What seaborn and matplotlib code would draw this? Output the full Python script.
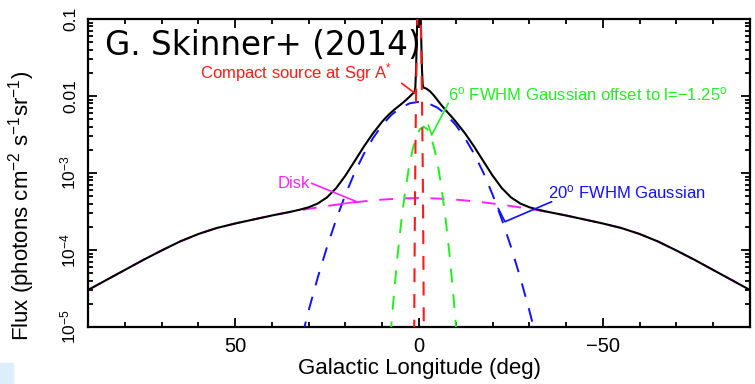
import numpy as np
import pandas as pd
import matplotlib
matplotlib.use("Agg")
import matplotlib.pyplot as plt
import seaborn as sns
from matplotlib.ticker import FixedLocator, FixedFormatter, MultipleLocator, LogLocator, NullFormatter
from matplotlib.patches import Rectangle

# ---------------- data ----------------
disk_l = [90, 85, 80, 75, 70, 65, 60, 55, 50, 45, 40, 35, 30, 25, 20, 15, 10, 5, 0,
          -5, -10, -15, -20, -25, -30, -35, -40, -45, -50, -55, -60, -65, -70, -75, -80, -85, -90]
disk_v = [3.02e-5, 4.08e-5, 5.50e-5, 7.42e-5, 9.85e-5, 1.289e-4, 1.613e-4, 1.930e-4, 2.209e-4,
          2.490e-4, 2.806e-4, 3.114e-4, 3.427e-4, 3.727e-4, 4.017e-4, 4.290e-4, 4.513e-4, 4.664e-4,
          4.734e-4,
          4.664e-4, 4.513e-4, 4.290e-4, 4.017e-4, 3.727e-4, 3.427e-4, 3.114e-4, 2.806e-4, 2.490e-4,
          2.209e-4, 1.930e-4, 1.613e-4, 1.289e-4, 9.85e-5, 7.42e-5, 5.50e-5, 4.08e-5, 3.02e-5]

blue_l = [35, 32.5, 30, 27.5, 25, 22.5, 20, 17.5, 15, 12.5, 10, 7.5, 5, 2.5, 0,
          -2.5, -5, -7.5, -10, -12.5, -15, -17.5, -20, -22.5, -25, -27.5, -30, -32.5, -35]
blue_v = [1.72e-6, 5.55e-6, 1.64e-5, 4.44e-5, 1.10e-4, 2.51e-4, 5.25e-4, 1.01e-3, 1.77e-3,
          2.84e-3, 4.20e-3, 5.69e-3, 7.06e-3, 8.04e-3, 8.40e-3,
          8.04e-3, 7.06e-3, 5.69e-3, 4.20e-3, 2.84e-3, 1.77e-3, 1.01e-3, 5.25e-4, 2.51e-4,
          1.10e-4, 4.44e-5, 1.64e-5, 5.55e-6, 1.72e-6]

green_l = [7.75, 6.75, 5.75, 4.75, 3.75, 2.75, 1.75, 0.75, -0.25, -1.25,
           -2.25, -3.25, -4.25, -5.25, -6.25, -7.25, -8.25, -9.25, -10.25]
green_v = [7.8e-6, 2.89e-5, 9.19e-5, 2.50e-4, 5.83e-4, 1.17e-3, 2.00e-3, 2.94e-3, 3.70e-3, 4.00e-3,
           3.70e-3, 2.94e-3, 2.00e-3, 1.17e-3, 5.83e-4, 2.50e-4, 9.19e-5, 2.89e-5, 7.8e-6]

red_l = [1.4, 1.3, 1.2, 1.1, 1.0, 0.9, 0.8, 0.7, 0.6, 0.5, 0.4, 0.3, 0.2, 0.1, 0.0,
         -0.1, -0.2, -0.3, -0.4, -0.5, -0.6, -0.7, -0.8, -0.9, -1.0, -1.1, -1.2, -1.3, -1.4]
red_v = [1e-6, 1e-5, 8e-5, 4e-4, 1.4e-3, 4e-3, 1e-2, 2.2e-2, 4.5e-2, 8e-2, 0.13, 0.22, 0.35, 0.46, 0.5,
         0.46, 0.35, 0.22, 0.13, 8e-2, 4.5e-2, 2.2e-2, 1e-2, 4e-3, 1.4e-3, 4e-4, 8e-5, 1e-5, 1e-6]

total_l = [90, 85, 80, 75, 70, 65, 60, 55, 50, 45, 40, 35, 32.5, 30, 27.5, 25, 22.5, 20, 17.5, 15,
           12.5, 10, 9, 8, 7, 6, 5, 4, 3, 2, 1.5, 1.2, 1.0, 0.8, 0.6, 0.4, 0.2, 0,
           -0.2, -0.4, -0.6, -0.8, -1.0, -1.2, -1.5, -2, -3, -4, -5, -6, -7, -8, -9, -10,
           -12.5, -15, -17.5, -20, -22.5, -25, -27.5, -30, -32.5, -35, -40, -45, -50, -55,
           -60, -65, -70, -75, -80, -85, -90]
total_v = [3.02e-5, 4.08e-5, 5.50e-5, 7.42e-5, 9.85e-5, 1.289e-4, 1.613e-4, 1.930e-4, 2.209e-4,
           2.490e-4, 2.806e-4, 3.13e-4, 3.33e-4, 3.59e-4, 4.02e-4, 4.83e-4, 6.38e-4, 9.27e-4,
           1.425e-3, 2.20e-3, 3.28e-3, 4.65e-3, 5.25e-3, 5.86e-3, 6.47e-3, 7.08e-3, 7.73e-3,
           8.47e-3, 9.36e-3, 1.041e-2, 1.097e-2, 1.139e-2, 1.292e-2, 2.173e-2, 5.69e-2, 0.142,
           0.362, 0.512,
           0.3625, 0.1426, 5.77e-2, 2.277e-2, 1.419e-2, 1.287e-2, 1.272e-2, 1.247e-2, 1.152e-2,
           1.022e-2, 8.88e-3, 7.71e-3, 6.76e-3, 5.97e-3, 5.29e-3, 4.65e-3,
           3.28e-3, 2.20e-3, 1.425e-3, 9.27e-4, 6.38e-4, 4.83e-4, 4.02e-4, 3.59e-4, 3.33e-4, 3.13e-4,
           2.806e-4, 2.490e-4, 2.209e-4, 1.930e-4, 1.613e-4, 1.289e-4, 9.85e-5, 7.42e-5, 5.50e-5,
           4.08e-5, 3.02e-5]

x_ticks = [50, 0, -50]
x_ticklabels = ["50", "0", "\u221250"]
y_ticks = [1e-5, 1e-4, 1e-3, 1e-2, 1e-1]
y_ticklabels = ["10$^{\u22125}$", "10$^{\u22124}$", "10$^{\u22123}$", "0.01", "0.1"]

# ---------------- style ----------------
sns.set_style("ticks")
plt.rcParams['font.family'] = ['Liberation Sans', 'DejaVu Sans']
plt.rcParams['mathtext.fontset'] = 'custom'
plt.rcParams['mathtext.rm'] = 'Liberation Sans'
plt.rcParams['mathtext.it'] = 'Liberation Sans:italic'
plt.rcParams['mathtext.bf'] = 'Liberation Sans:bold'
plt.rcParams['lines.scale_dashes'] = False
plt.rcParams['text.color'] = 'black'
plt.rcParams['axes.labelcolor'] = 'black'
plt.rcParams['xtick.color'] = 'black'
plt.rcParams['ytick.color'] = 'black'

RED = '#ff1a1a'
GREEN = '#22ee22'
BLUE = '#1010ff'
MAG = '#ff22ff'

fig = plt.figure(figsize=(7.55, 3.84), dpi=100)
fig.patches.append(Rectangle((0, 0), 13 / 755, 21 / 384, transform=fig.transFigure,
                             color='#dbeef9', zorder=0))
ax = fig.add_axes([88 / 755, 57 / 384, 662 / 755, 308 / 384])
ax.set_yscale('log')
ax.set_xlim(90, -90)
ax.set_ylim(1e-5, 0.1)

DASH = (10, 8.5)


def draw(lv, vv, color, lw, dashed, z):
    df = pd.DataFrame({"l": lv, "flux": vv})
    sns.lineplot(data=df, x="l", y="flux", ax=ax, color=color, linewidth=lw,
                 estimator=None, sort=False, zorder=z)
    line = ax.lines[-1]
    if dashed:
        line.set_dashes(DASH)


draw(disk_l, disk_v, MAG, 1.4, True, 2)
draw(blue_l, blue_v, BLUE, 1.4, True, 3)
draw(green_l, green_v, GREEN, 1.4, True, 3)
draw(total_l, total_v, 'black', 1.5, False, 4)
draw(red_l, red_v, RED, 1.5, True, 5)

# ---------------- axes ----------------
ax.xaxis.set_major_locator(FixedLocator(x_ticks))
ax.xaxis.set_major_formatter(FixedFormatter(x_ticklabels))
ax.xaxis.set_minor_locator(MultipleLocator(10))
ax.yaxis.set_major_locator(FixedLocator(y_ticks))
ax.yaxis.set_major_formatter(FixedFormatter(y_ticklabels))
ax.yaxis.set_minor_locator(LogLocator(base=10, subs=np.arange(2, 10)))
ax.yaxis.set_minor_formatter(NullFormatter())

ax.tick_params(which='both', direction='in', top=True, right=True, width=1.3, color='black')
ax.tick_params(which='major', length=6.5)
ax.tick_params(which='minor', length=3.5)
ax.tick_params(axis='x', labelsize=14.5, pad=7)
ax.tick_params(axis='y', labelsize=12.5, pad=7, labelrotation=90)
for t in ax.get_yticklabels():
    t.set_va('center')
for s in ax.spines.values():
    s.set_linewidth(1.6)
    s.set_color('black')

ax.set_xlabel("Galactic Longitude (deg)", fontsize=16)
ax.set_ylabel("Flux (photons cm$^{\u22122}$ s$^{\u22121}$sr$^{\u22121}$)", fontsize=16)
ax.xaxis.set_label_coords(0.5, -0.1)
ax.yaxis.set_label_coords(-0.077, 0.393)

# ---------------- annotations ----------------
ax.text(85.4, 0.0459, "G. Skinner+ (2014)", fontsize=23.5, family=['DejaVu Sans'],
        color='black', ha='left', va='center', zorder=6)

ax.text(59.5, 0.0199, "Compact source at Sgr A$^{*}$", color=RED, fontsize=12,
        ha='left', va='center', zorder=6)
ax.plot([4.71, 1.09], [0.01462, 0.01084], color=RED, lw=1.2, zorder=6)

ax.text(-7.88, 0.0106, "6$^{\\rm o}$ FWHM Gaussian offset to l=\u22121.25$^{\\rm o}$",
        color=GREEN, fontsize=12, ha='left', va='center', zorder=6)
ax.plot([-7.96, -3.45, -2.52], [8.04e-3, 3.12e-3, 4.2e-3], color=GREEN, lw=1.2, zorder=6)

ax.text(-35.07, 5.55e-4, "20$^{\\rm o}$ FWHM Gaussian", color=BLUE, fontsize=12,
        ha='left', va='center', zorder=6)
ax.plot([-36.07, -23.38, -21.55], [4.24e-4, 2.33e-4, 3.48e-4], color=BLUE, lw=1.2, zorder=6)

ax.text(38.34, 7.41e-4, "Disk", color=MAG, fontsize=12, ha='left', va='center', zorder=6)
ax.plot([29.18, 16.94, 21.02], [7.35e-4, 4.24e-4, 3.96e-4], color=MAG, lw=1.2, zorder=6)

fig.savefig("out.png", dpi=100)
